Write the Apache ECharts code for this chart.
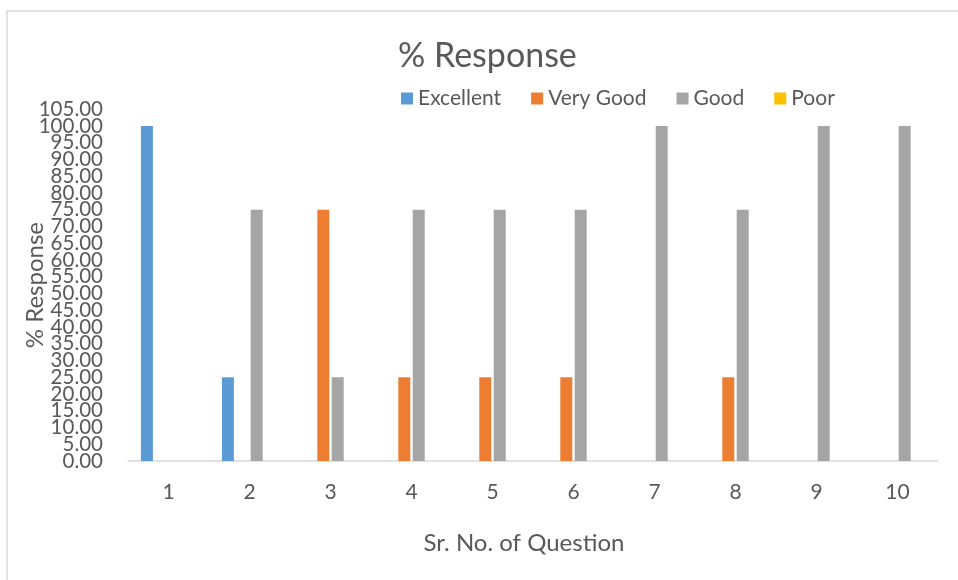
<!DOCTYPE html>
<html><head><meta charset="utf-8">
<script src="https://cdn.jsdelivr.net/npm/echarts@6/dist/echarts.min.js"></script>
<style>html,body{margin:0;padding:0;background:#fff}#c{width:958px;height:580px}</style>
</head><body><div id="c"></div>
<script>
var categories = ['1','2','3','4','5','6','7','8','9','10'];
var excellent = [100,25,0,0,0,0,0,0,0,0];
var veryGood = [0,0,75,25,25,25,0,25,0,0];
var good = [0,75,25,75,75,75,100,75,100,100];
var poor = [0,0,0,0,0,0,0,0,0,0];
var yTicksA = [0,10,15,20,25,30,35,40,45,50,55,60,65,70,75,80,85,90,95,105];
var yTicksB = [5,100];
var seriesNames = ['Excellent','Very Good','Good','Poor'];
var colors = ['#5B9BD5','#ED7D31','#A5A5A5','#FFC000'];
var F = 'Lato, "Open Sans", sans-serif';
var chart = echarts.init(document.getElementById('c'));
var data = [excellent, veryGood, good, poor];
function yAxis(ticks, withName){
  var a = {type:'value',min:0,max:105,interval:5,position:'left',
    axisLine:{show:false},axisTick:{show:false},splitLine:{show:false},
    axisLabel:{fontFamily:F,fontSize:20.5,color:'#595959',margin:25,customValues:ticks,
      formatter:function(v){return v.toFixed(2);}}};
  if(withName){a.name='% Response';a.nameLocation='middle';a.nameGap=81;a.nameMoveOverlap=false;
    a.nameTextStyle={fontFamily:F,fontSize:24,color:'#595959'};}
  return a;
}
chart.setOption({
  animation:false,
  color: colors,
  graphic:[{type:'polyline',shape:{points:[[7,580],[7,11],[958,11]]},style:{stroke:'#d9d9d9',lineWidth:1.5,fill:null},silent:true}],
  title:{text:'% Response',left:393,top:34,textStyle:{fontFamily:F,fontSize:34,fontWeight:'normal',color:'#595959'}},
  legend:{top:83,left:396,itemWidth:12,itemHeight:12,itemGap:30,icon:'rect',
    textStyle:{fontFamily:F,fontSize:21,color:'#595959'},data:seriesNames},
  grid:{left:128,right:20,top:109.25,bottom:119},
  xAxis:{type:'category',data:categories,
    axisLine:{lineStyle:{color:'#d9d9d9',width:1.5}},axisTick:{show:false},
    axisLabel:{fontFamily:F,fontSize:21,color:'#595959',margin:21},
    name:'Sr. No. of Question',nameLocation:'middle',nameGap:70,
    nameTextStyle:{fontFamily:F,fontSize:24,color:'#595959',padding:[0,18,0,0]}},
  yAxis:[yAxis(yTicksA,true), yAxis(yTicksB,false)],
  series: seriesNames.map(function(n,i){return {name:n,type:'bar',data:data[i],barWidth:12,barGap:'20%'};})
});
</script></body></html>
